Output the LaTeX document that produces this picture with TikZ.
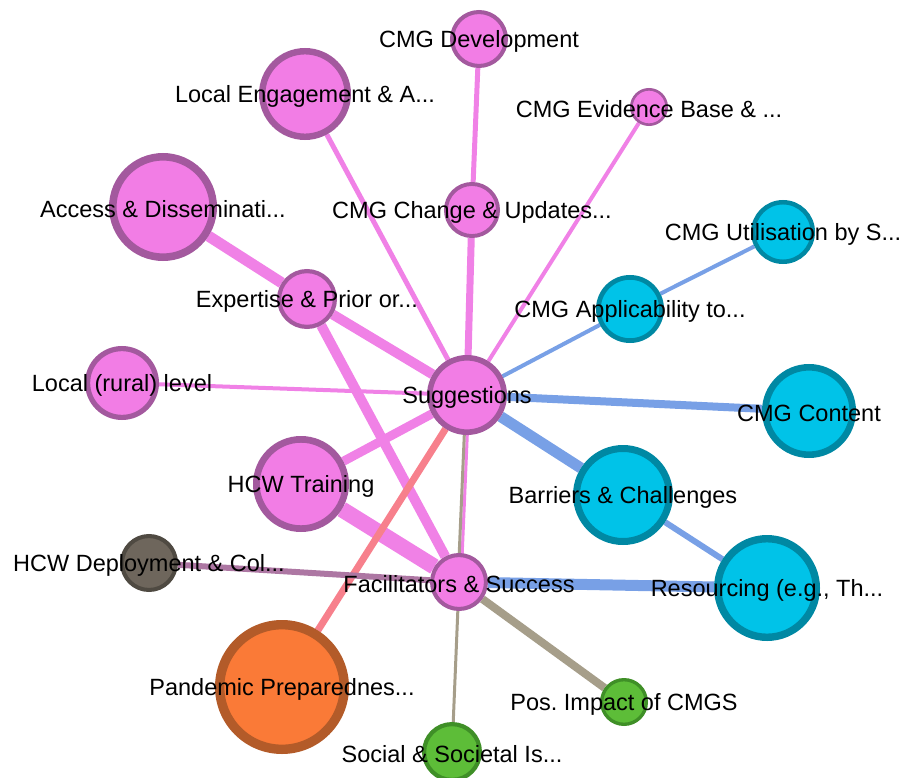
\documentclass[tikz,border=0pt]{standalone}
\usepackage{fontspec}
\setmainfont{Liberation Sans}
\usetikzlibrary{backgrounds}

\definecolor{pinkfill}{HTML}{F27DE5}
\definecolor{pinkline}{HTML}{A3599E}
\definecolor{bluefill}{HTML}{00C3E8}
\definecolor{blueline}{HTML}{0088A3}
\definecolor{grayfill}{HTML}{6E665C}
\definecolor{grayline}{HTML}{4F4A42}
\definecolor{orangefill}{HTML}{FA7A37}
\definecolor{orangeline}{HTML}{B35B29}
\definecolor{greenfill}{HTML}{5DBD38}
\definecolor{greenline}{HTML}{3F8F27}
\definecolor{pinkedge}{HTML}{F081E6}
\definecolor{blueedge}{HTML}{78A0E6}
\definecolor{salmonedge}{HTML}{F7808C}
\definecolor{tanedge}{HTML}{A69E8A}
\definecolor{mauveedge}{HTML}{AD77A3}

\begin{document}
\begin{tikzpicture}[x=1pt, y=-1pt,
      topic/.style={circle, inner sep=0pt, minimum size=1.86*#1,
                    line width=0.14*#1},
      pinktopic/.style={topic=#1, draw=pinkline, fill=pinkfill},
      bluetopic/.style={topic=#1, draw=blueline, fill=bluefill},
      graytopic/.style={topic=#1, draw=grayline, fill=grayfill},
      orangetopic/.style={topic=#1, draw=orangeline, fill=orangefill},
      greentopic/.style={topic=#1, draw=greenline, fill=greenfill},
      lab/.style={text=black, yshift=-2pt,
                  font=\fontsize{23.5}{28}\selectfont},
      pedge/.style={draw=pinkedge, line width=#1},
      bedge/.style={draw=blueedge, line width=#1},
      tedge/.style={draw=tanedge, line width=#1},
    ]
      \useasboundingbox (0,0) rectangle (901,778);

      \node[pinktopic=29] (dev) at (479,39) {};
      \node[pinktopic=46] (eng) at (305,94) {};
      \node[pinktopic=19] (evi) at (649,107) {};
      \node[pinktopic=54] (acc) at (163,207) {};
      \node[pinktopic=28] (chg) at (472,210) {};
      \node[bluetopic=32] (uti) at (783,232) {};
      \node[pinktopic=30] (exp) at (307,299) {};
      \node[bluetopic=34] (app) at (630,309) {};
      \node[pinktopic=37] (rur) at (122,383) {};
      \node[pinktopic=40] (sug) at (467,395) {};
      \node[bluetopic=47] (con) at (809,411) {};
      \node[pinktopic=48] (trn) at (301,484) {};
      \node[bluetopic=50] (bar) at (623,495) {};
      \node[graytopic=29] (dep) at (149,563) {};
      \node[pinktopic=29] (fac) at (459,582) {};
      \node[bluetopic=53] (res) at (767,588) {};
      \node[orangetopic=67] (pan) at (282,687) {};
      \node[greentopic=24] (pos) at (624,702) {};
      \node[greentopic=30] (soc) at (452,752) {};

      % connectors behind the circles
      \begin{scope}[on background layer]
        \draw[pedge=5] (dev)--(chg);
        \draw[pedge=7] (chg)--(sug);
        \draw[pedge=5] (eng)--(sug);
        \draw[pedge=4] (evi)--(sug);
        \draw[pedge=11] (acc)--(exp);
        \draw[pedge=10] (exp)--(sug);
        \draw[pedge=10] (exp)--(fac);
        \draw[pedge=4] (rur)--(sug);
        \draw[pedge=9] (trn)--(sug);
        \draw[pedge=16] (trn)--(fac);
        \draw[draw=salmonedge, line width=7] (pan)--(sug);
        \draw[pedge=3] ([xshift=2]sug.center)--([xshift=2]fac.center);
        \draw[tedge=3] ([xshift=-1]sug.center)--([xshift=-1]fac.center);
        \draw[bedge=4] (sug)--(app);
        \draw[bedge=4] (app)--(uti);
        \draw[bedge=8] (sug)--(con);
        \draw[bedge=11] (sug)--(bar);
        \draw[bedge=6] (bar)--(res);
        \draw[bedge=11] (fac)--(res);
        \draw[draw=mauveedge, line width=6] (dep)--(fac);
        \draw[tedge=8] (fac)--(pos);
        \draw[tedge=3] (fac)--(soc);
      \end{scope}

      % labels on top
      \node[lab] (dev-l) at (dev) {CMG Development};
      \node[lab] (eng-l) at (eng) {Local Engagement \& A...};
      \node[lab] (evi-l) at (evi) {CMG Evidence Base \& ...};
      \node[lab] (acc-l) at (acc) {Access \& Disseminati...};
      \node[lab] (chg-l) at (chg) {CMG Change \& Updates...};
      \node[lab] (uti-l) at (uti) {CMG Utilisation by S...};
      \node[lab] (exp-l) at (exp) {Expertise \& Prior or...};
      \node[lab] (app-l) at (app) {CMG Applicability to...};
      \node[lab] (rur-l) at (rur) {Local (rural) level};
      \node[lab] (sug-l) at (sug) {Suggestions};
      \node[lab] (con-l) at (con) {CMG Content};
      \node[lab] (trn-l) at (trn) {HCW Training};
      \node[lab] (bar-l) at (bar) {Barriers \& Challenges};
      \node[lab] (dep-l) at (dep) {HCW Deployment \& Col...};
      \node[lab] (fac-l) at (fac) {Facilitators \& Success};
      \node[lab] (res-l) at (res) {Resourcing (e.g., Th...};
      \node[lab] (pan-l) at (pan) {Pandemic Preparednes...};
      \node[lab] (pos-l) at (pos) {Pos.\ Impact of CMGS};
      \node[lab] (soc-l) at (soc) {Social \& Societal Is...};
    \end{tikzpicture}
\end{document}
